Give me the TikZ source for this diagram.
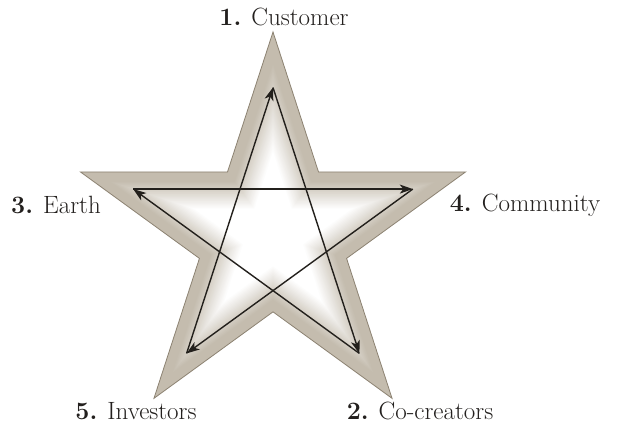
\documentclass[tikz,border=0pt]{standalone}
\usetikzlibrary{arrows.meta}
\definecolor{bandgray}{RGB}{196,188,174}
\definecolor{edgegray}{RGB}{140,130,114}
\definecolor{inkc}{RGB}{35,32,28}
\definecolor{textc}{RGB}{35,32,30}
\newcommand{\mystar}[1]{({90}:{#1}) -- ({126}:{0.382*#1}) -- ({162}:{#1}) -- ({198}:{0.382*#1}) -- ({234}:{#1}) -- ({270}:{0.382*#1}) -- ({306}:{#1}) -- ({342}:{0.382*#1}) -- ({18}:{#1}) -- ({54}:{0.382*#1}) -- cycle}
\tikzset{
  lbl/.style={text=textc, font=\fontsize{25}{29}\selectfont, inner sep=0pt},
  flow/.style={draw=inkc, line width=1.4pt, -{Stealth[length=13pt,width=9pt,inset=3.5pt]}}
}
\begin{document}
\begin{tikzpicture}[x=1pt,y=1pt]
\useasboundingbox (0,0) rectangle (618,427);
\fill[white] (0,0) rectangle (618,427);
\begin{scope}[shift={(273,192.5)}]
  % outer star
  \filldraw[fill=bandgray, draw=edgegray, line width=0.8pt] \mystar{202.5};
  % soft inner fade
  \foreach \i in {0,...,40}{
    \pgfmathsetmacro{\s}{202.5*(62.6-(9+\i*0.7))/62.6}
    \pgfmathsetmacro{\c}{100-\i*2.5}
    \fill[bandgray!\c!white] \mystar{\s};
  }
  % arrow star vertices
  \coordinate (c1) at (90:147);
  \coordinate (c2) at (306:147);
  \coordinate (c3) at (162:147);
  \coordinate (c4) at (18:147);
  \coordinate (c5) at (234:147);
  \draw[flow] (c1) -- (c2);
  \draw[flow] (c2) -- (c3);
  \draw[flow] (c3) -- (c4);
  \draw[flow] (c4) -- (c5);
  \draw[flow] (c5) -- (c1);
\end{scope}
\node[lbl] (n1) at (284,410) {\textbf{1.} Customer};
\node[lbl] (n3) at (56,222) {\textbf{3.} Earth};
\node[lbl] (n4) at (525,222) {\textbf{4.} Community};
\node[lbl] (n5) at (136,16) {\textbf{5.} Investors};
\node[lbl] (n2) at (420,16) {\textbf{2.} Co-creators};
\end{tikzpicture}
\end{document}
